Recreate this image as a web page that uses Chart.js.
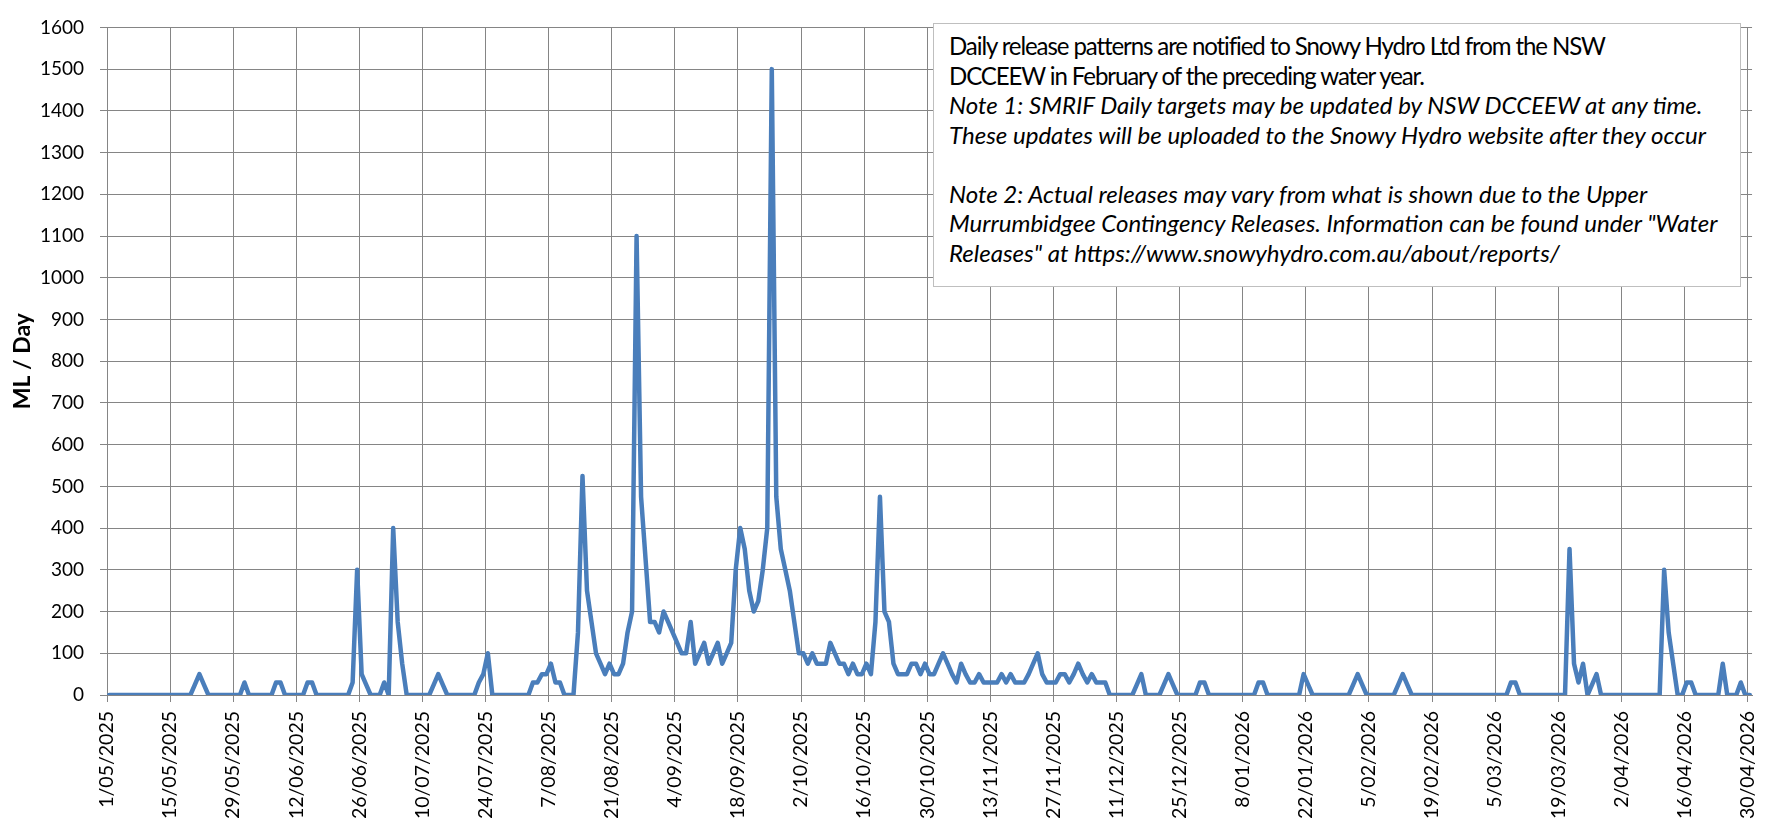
<!DOCTYPE html>
<html>
<head>
<meta charset="utf-8">
<script src="https://cdn.jsdelivr.net/npm/chart.js@4.4.1/dist/chart.umd.min.js"></script>
<style>
  html, body { margin: 0; padding: 0; background: #fff; }
  #wrap { position: relative; width: 1780px; height: 820px; overflow: hidden; }
  #c { position: absolute; left: 0; top: 0; }
  #note {
    position: absolute; left: 933px; top: 23px; width: 808px; height: 264px;
    box-sizing: border-box; border: 1px solid #bfbfbf; background: #fff;
    padding: 7px 0 0 15px; font-family: Lato, "Open Sans", sans-serif;
    font-size: 20px; line-height: 29.5px; color: #000; white-space: nowrap;
  }
  #note .it { font-style: italic; }
  #note .line { display: block; height: 29.5px; }
</style>
</head>
<body>
<div id="wrap">
  <canvas id="c" width="1780" height="820"></canvas>
  <div id="note">
    <span class="line up" id="upLine">Daily release patterns are notified to Snowy Hydro Ltd from the NSW</span>
    <span class="line up">DCCEEW in February of the preceding water year.</span>
    <span class="line it">Note 1: SMRIF Daily targets may be updated by NSW DCCEEW at any time.</span>
    <span class="line it">These updates will be uploaded to the Snowy Hydro website after they occur</span>
    <span class="line it">&nbsp;</span>
    <span class="line it">Note 2: Actual releases may vary from what is shown due to the Upper</span>
    <span class="line it" id="longLine">Murrumbidgee Contingency Releases. Information can be found under "Water</span>
    <span class="line it">Releases" at https://www.snowyhydro.com.au/about/reports/</span>
  </div>
</div>
<script>
// Daily release targets (ML/Day), one value per day from 1/05/2025 to 30/04/2026
const releases = [
  0,0,0,0,0,0,0,0,0,0,
  0,0,0,0,0,0,0,0,0,25,
  50,25,0,0,0,0,0,0,0,0,
  30,0,0,0,0,0,0,30,30,0,
  0,0,0,0,30,30,0,0,0,0,
  0,0,0,0,30,300,50,25,0,0,
  0,30,0,400,175,75,0,0,0,0,
  0,0,25,50,25,0,0,0,0,0,
  0,0,30,50,100,0,0,0,0,0,
  0,0,0,0,30,30,50,50,75,30,
  30,0,0,0,150,525,250,175,100,75,
  50,75,50,50,75,150,200,1100,475,325,
  175,175,150,200,175,150,125,100,100,175,
  75,100,125,75,100,125,75,100,125,300,
  400,350,250,200,225,300,400,1500,475,350,
  300,250,175,100,100,75,100,75,75,75,
  125,100,75,75,50,75,50,50,75,50,
  175,475,200,175,75,50,50,50,75,75,
  50,75,50,50,75,100,75,50,30,75,
  50,30,30,50,30,30,30,30,50,30,
  50,30,30,30,50,75,100,50,30,30,
  30,50,50,30,50,75,50,30,50,30,
  30,30,0,0,0,0,0,0,25,50,
  0,0,0,0,25,50,25,0,0,0,
  0,0,30,30,0,0,0,0,0,0,
  0,0,0,0,0,30,30,0,0,0,
  0,0,0,0,0,50,25,0,0,0,
  0,0,0,0,0,0,25,50,25,0,
  0,0,0,0,0,0,25,50,25,0,
  0,0,0,0,0,0,0,0,0,0,
  0,0,0,0,0,0,0,0,0,0,
  0,30,30,0,0,0,0,0,0,0,
  0,0,0,0,350,75,30,75,0,25,
  50,0,0,0,0,0,0,0,0,0,
  0,0,0,0,0,300,150,75,0,0,
  30,30,0,0,0,0,0,0,75,0,
  0,0,30,0,0
];

// X tick labels, one every 14 days
const tickLabels = [
  '1/05/2025','15/05/2025','29/05/2025','12/06/2025','26/06/2025','10/07/2025',
  '24/07/2025','7/08/2025','21/08/2025','4/09/2025','18/09/2025','2/10/2025',
  '16/10/2025','30/10/2025','13/11/2025','27/11/2025','11/12/2025','25/12/2025',
  '8/01/2026','22/01/2026','5/02/2026','19/02/2026','5/03/2026','19/03/2026',
  '2/04/2026','16/04/2026','30/04/2026'
];
const tickEvery = 14;
const yTicks = { min: 0, max: 1600, step: 100 };
const yTitle = 'ML / Day';

const FONT = 'Lato, "Open Sans", sans-serif';
const GRID = '#858585';

function textWidth(el) {
  const range = document.createRange();
  range.selectNodeContents(el);
  return range.getBoundingClientRect().width;
}

function fitNote() {
  const note = document.getElementById('note');
  const wIt = textWidth(document.getElementById('longLine'));
  note.style.fontSize = (20 * 769 / wIt).toFixed(2) + 'px';
  const up = document.getElementById('upLine');
  const wUp = textWidth(up);
  const n = up.textContent.length;
  const ls = ((655 - wUp) / n).toFixed(3) + 'px';
  document.querySelectorAll('#note .up').forEach(e => e.style.letterSpacing = ls);
}

function draw() {
  fitNote();
  const points = releases.map((v, i) => ({ x: i + 0.5, y: v }));
  new Chart(document.getElementById('c'), {
    type: 'line',
    data: {
      datasets: [{
        data: points,
        borderColor: '#4a7ebb',
        borderWidth: 4.5,
        pointRadius: 0,
        tension: 0,
        fill: false,
        borderJoinStyle: 'round',
        borderCapStyle: 'round'
      }]
    },
    options: {
      responsive: false,
      animation: false,
      layout: { padding: { top: 14, right: 21, bottom: 0, left: 0 } },
      plugins: { legend: { display: false }, tooltip: { enabled: false } },
      scales: {
        x: {
          type: 'linear',
          min: 0,
          max: releases.length,
          afterBuildTicks: (s) => { s.ticks = tickLabels.map((_, k) => ({ value: k * tickEvery })); },
          afterFit: (s) => { s.height = 125; },
          grid: { color: GRID, lineWidth: 1, tickLength: 7, drawTicks: true },
          border: { color: GRID, width: 1 },
          ticks: {
            autoSkip: false, maxRotation: 90, minRotation: 90, padding: 9,
            color: '#000', font: { family: FONT, size: 19.5 },
            callback: (v) => tickLabels[Math.round(v / tickEvery)]
          }
        },
        y: {
          min: yTicks.min, max: yTicks.max,
          afterFit: (s) => { s.width = 107; },
          grid: { color: GRID, lineWidth: 1, tickLength: 7 },
          border: { color: GRID, width: 1 },
          ticks: {
            stepSize: yTicks.step, padding: 16, color: '#000',
            font: { family: FONT, size: 19 },
            callback: (v) => String(v)
          },
          title: {
            display: true, text: yTitle, color: '#000',
            font: { family: FONT, size: 23, weight: 'bold' },
            padding: { top: 9, bottom: 0 }
          }
        }
      }
    }
  });
}

Promise.all([
  document.fonts.load('19px Lato'),
  document.fonts.load('bold 23px Lato'),
  document.fonts.load('italic 20px Lato')
]).then(draw, draw);
</script>
</body>
</html>
